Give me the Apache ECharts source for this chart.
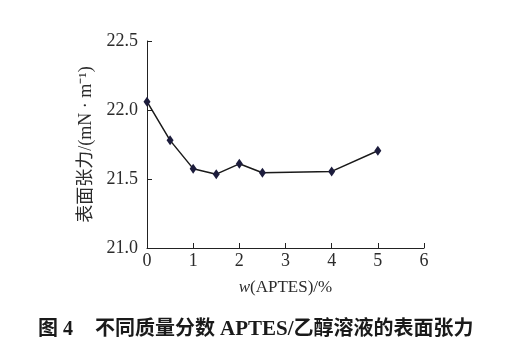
<!DOCTYPE html>
<html><head><meta charset="utf-8">
<script src="https://cdn.jsdelivr.net/npm/echarts@6/dist/echarts.min.js"></script>
<style>html,body{margin:0;padding:0;background:#fff}#c{width:522px;height:340px}</style>
</head><body><div id="c"></div>
<script>
var xValues = [0, 0.5, 1.0, 1.5, 2.0, 2.5, 4.0, 5.0];
var tension = [22.06, 21.78, 21.575, 21.535, 21.61, 21.545, 21.555, 21.705];
var xTicks = [0, 1, 2, 3, 4, 5, 6];
var yTicks = [21.0, 21.5, 22.0, 22.5];
var yName = '表面张力/(mN · m⁻¹)';
var captionNo = '图 4';
var captionA = '不同质量分数 ';
var captionB = 'APTES/';
var captionC = '乙醇溶液的表面张力';

var FONT = '"Liberation Serif", "Noto Sans CJK SC", serif';
var TXT = '#2b2b2b';
var CAP = '#1a1a1a';
var chart = echarts.init(document.getElementById('c'), null, {renderer: 'canvas'});
chart.setOption({
  animation: false,
  backgroundColor: '#fff',
  title: {
    text: '{a|' + captionNo + '}{g|}{b|' + captionA + '}{c|' + captionB + '}{b|' + captionC + '}',
    left: 33, top: 314,
    textStyle: {
      fontFamily: FONT, fontSize: 20, fontWeight: 'bold', color: CAP,
      rich: {
        a: {fontFamily: FONT, fontSize: 20, fontWeight: 'bold', color: CAP},
        g: {width: 22},
        b: {fontFamily: FONT, fontSize: 20, fontWeight: 'bold', color: CAP},
        c: {fontFamily: FONT, fontSize: 21, fontWeight: 'bold', color: CAP}
      }
    }
  },
  grid: {left: 147, right: 98, top: 41, bottom: 92, containLabel: false},
  xAxis: {
    type: 'value', min: xTicks[0], max: xTicks[xTicks.length - 1], interval: 1,
    axisLine: {lineStyle: {color: '#222', width: 1}},
    axisTick: {inside: true, length: 5, lineStyle: {color: '#222'}},
    splitLine: {show: false},
    axisLabel: {fontFamily: FONT, fontSize: 18, color: TXT, margin: 4},
    name: '{i|w}(APTES)/%', nameLocation: 'middle', nameGap: 31,
    nameTextStyle: {fontFamily: FONT, fontSize: 17, color: TXT,
      rich: {i: {fontStyle: 'italic', fontFamily: FONT, fontSize: 17, color: TXT}}}
  },
  yAxis: {
    type: 'value', min: yTicks[0], max: yTicks[yTicks.length - 1], interval: 0.5,
    axisLine: {show: true, lineStyle: {color: '#222', width: 1}},
    axisTick: {show: true, inside: true, length: 5, lineStyle: {color: '#222'}},
    splitLine: {show: false},
    axisLabel: {fontFamily: FONT, fontSize: 18, color: TXT, margin: 9,
      formatter: function (v) { return v.toFixed(1); }},
    name: yName, nameLocation: 'middle', nameGap: 48, nameRotate: 90,
    nameTextStyle: {fontFamily: FONT, fontSize: 18, color: TXT}
  },
  series: [{
    type: 'line',
    data: xValues.map(function (x, i) { return [x, tension[i]]; }),
    symbol: 'diamond', symbolSize: [7, 10],
    itemStyle: {color: '#1c1c3c'},
    lineStyle: {color: '#1a1a1a', width: 1.5}
  }]
});
</script></body></html>
